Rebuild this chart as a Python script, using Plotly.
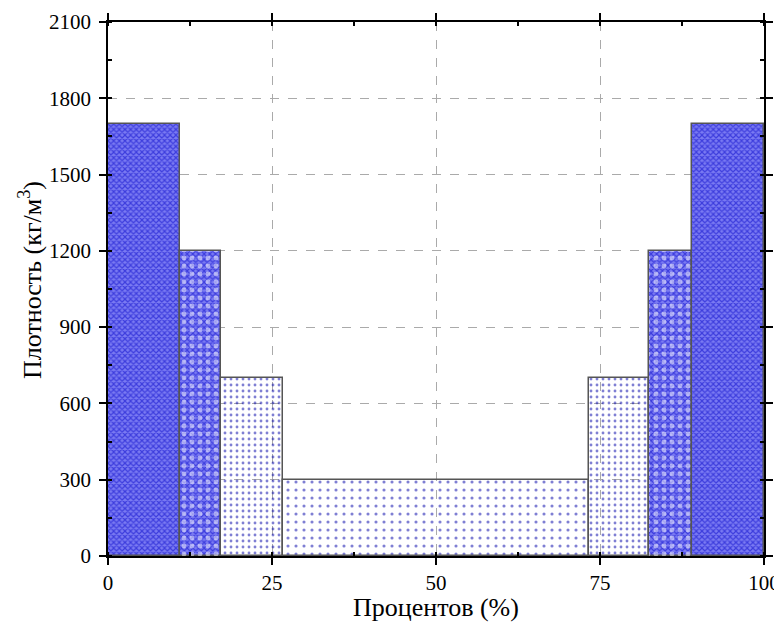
import plotly.graph_objects as go

# Segment edges (%) and densities (kg/m^3)
edges = [0, 11, 17.2, 26.7, 73.3, 82.5, 89, 100]
density = [1700, 1200, 700, 300, 700, 1200, 1700]
pattern_kind = ["checker", "checker_dots", "dots", "sparse", "dots", "checker_dots", "checker"]

x_ticks = [0, 25, 50, 75, 100]
y_ticks = [0, 300, 600, 900, 1200, 1500, 1800, 2100]
x_title = "Процентов (%)"
y_title = "Плотность (кг/м<sup>3</sup>)"

centers = [(a + b) / 2 for a, b in zip(edges[:-1], edges[1:])]
widths = [b - a for a, b in zip(edges[:-1], edges[1:])]

fig = go.Figure()

DOT = "#0000a8"
OUTLINE = dict(color="#555555", width=1.5)
FONT = "Liberation Serif, Times New Roman, serif"

def add_group(kind, shape, fg, bg, size, solidity, outline=True):
    idx = [i for i, k in enumerate(pattern_kind) if k in kind]
    fig.add_trace(go.Bar(
        x=[centers[i] for i in idx],
        y=[density[i] for i in idx],
        width=[widths[i] for i in idx],
        marker=dict(
            color="rgba(0,0,0,0)",
            line=OUTLINE if outline else dict(width=0),
            pattern=dict(shape=shape, fgcolor=fg, bgcolor=bg, size=size,
                         solidity=solidity, fillmode="overlay"),
        ),
        showlegend=False, hoverinfo="skip",
    ))

# checker (dense crosshatch)
add_group(["checker", "checker_dots"], "x", "#0000c8", "#7a7af2", 4, 0.5)
# white dots over checker
add_group(["checker_dots"], ".", "#ffffff", "rgba(0,0,0,0)", 8, 0.3, outline=False)
# blue dots
add_group(["dots"], ".", DOT, "rgba(0,0,0,0)", 6, 0.18)
# sparse blue dots
add_group(["sparse"], ".", DOT, "rgba(0,0,0,0)", 8, 0.12)

axis_common = dict(
    showline=True, linecolor="black", linewidth=1.5, mirror="ticks",
    ticks="outside", ticklen=7, tickwidth=1.5, tickcolor="black",
    showgrid=True, gridcolor="#aaaaaa", griddash="dash", gridwidth=1,
    zeroline=False, automargin=False,
    tickfont=dict(family=FONT, size=21, color="black"),
)

title_font = dict(family=FONT, size=26, color="black")

fig.update_layout(
    width=774, height=616,
    font=dict(family=FONT, size=21, color="black"),
    margin=dict(l=100, r=18, t=14, b=68),
    plot_bgcolor="white", paper_bgcolor="white",
    barmode="overlay", bargap=0,
    xaxis=dict(axis_common, range=[0, 100], tickvals=x_ticks,
               minor=dict(ticks="inside", ticklen=4, tickwidth=1.5, tickcolor="black",
                          dtick=12.5, showgrid=False)),
    yaxis=dict(axis_common, range=[0, 2100], tickvals=y_ticks, ticklabelstandoff=4,
               minor=dict(ticks="inside", ticklen=4, tickwidth=1.5, tickcolor="black",
                          dtick=150, showgrid=False)),
    annotations=[
        dict(text=x_title, xref="paper", yref="paper", x=0.5, y=-(607 - 556) / 534,
             xanchor="center", yanchor="middle", showarrow=False, font=title_font),
        dict(text=y_title, xref="paper", yref="paper", x=-(108 - 30) / 656,
             y=(556 - 280) / 534, xanchor="center", yanchor="middle",
             textangle=-90, showarrow=False, font=title_font),
    ],
)

fig.write_html("out.html")
